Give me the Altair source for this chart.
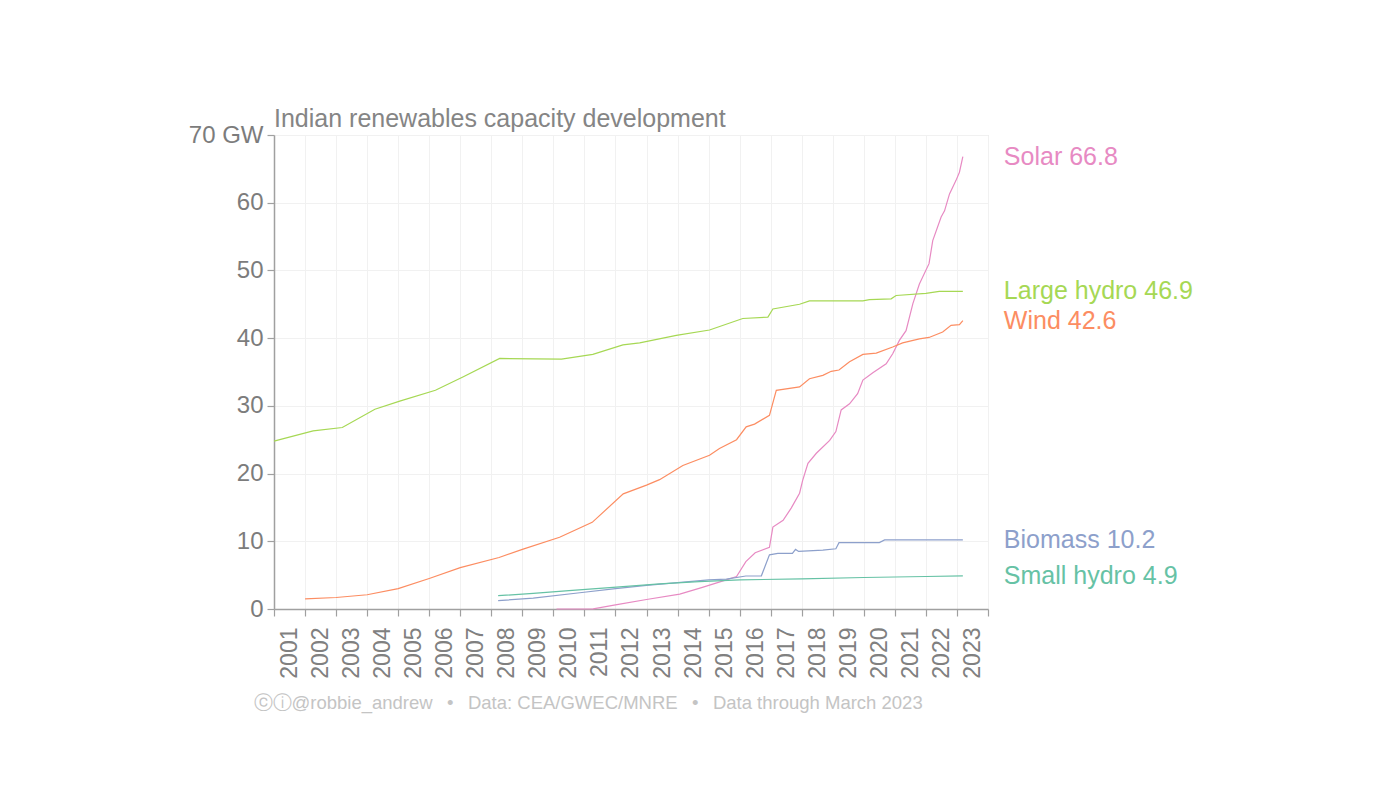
import altair as alt
import pandas as pd

FONT = "Liberation Sans"

# ---- data (decimal years, GW) ----
solar_year = [2010.1, 2011.28, 2012.0, 2013.0, 2014.07, 2014.8, 2015.57, 2015.9, 2016.2, 2016.5,
              2016.96, 2017.07, 2017.4, 2017.66, 2017.93, 2018.03, 2018.2, 2018.47, 2018.9, 2019.1,
              2019.27, 2019.54, 2019.8, 2019.97, 2020.29, 2020.72, 2020.93, 2021.15, 2021.36, 2021.58,
              2021.79, 2022.1, 2022.22, 2022.49, 2022.6, 2022.76, 2022.97, 2023.08, 2023.19]
solar_gw = [0.0, 0.03, 0.6, 1.4, 2.2, 3.2, 4.3, 4.8, 7.0, 8.3,
            9.1, 12.1, 13.1, 14.9, 17.1, 19.0, 21.5, 23.0, 24.9, 26.2,
            29.4, 30.3, 31.8, 33.8, 34.9, 36.2, 37.7, 39.7, 41.1, 45.1,
            48.0, 51.0, 54.4, 57.9, 58.8, 61.3, 63.3, 64.5, 66.8]

hydro_year = [2001.0, 2002.26, 2003.2, 2004.25, 2005.05, 2006.2, 2007.1, 2008.27, 2010.26, 2011.27,
              2012.24, 2012.78, 2013.96, 2015.03, 2016.1, 2016.91, 2017.07, 2017.93, 2018.25, 2019.97,
              2020.18, 2020.88, 2021.04, 2022.0, 2022.43, 2023.19]
hydro_gw = [24.8, 26.3, 26.8, 29.5, 30.7, 32.3, 34.3, 37.0, 36.9, 37.6,
            39.0, 39.3, 40.4, 41.2, 42.9, 43.1, 44.3, 45.0, 45.5, 45.5,
            45.7, 45.8, 46.3, 46.6, 46.9, 46.9]

wind_year = [2002.0, 2003.0, 2004.0, 2005.0, 2006.0, 2007.0, 2008.25, 2009.0, 2010.2, 2011.25,
             2012.25, 2013.0, 2013.42, 2014.17, 2015.03, 2015.35, 2015.9, 2016.21, 2016.48, 2016.96,
             2017.18, 2017.93, 2018.25, 2018.68, 2018.95, 2019.2, 2019.54, 2019.97, 2020.4, 2020.93,
             2021.25, 2021.79, 2022.1, 2022.54, 2022.81, 2023.08, 2023.19]
wind_gw = [1.5, 1.7, 2.1, 3.0, 4.5, 6.1, 7.6, 8.8, 10.6, 12.8,
           17.0, 18.3, 19.1, 21.2, 22.7, 23.7, 25.0, 26.9, 27.3, 28.6,
           32.3, 32.8, 34.0, 34.5, 35.1, 35.3, 36.5, 37.6, 37.8, 38.7,
           39.3, 39.9, 40.1, 40.9, 41.9, 42.0, 42.6]

biomass_year = [2008.22, 2009.35, 2010.85, 2012.0, 2013.0, 2014.0, 2015.0, 2015.57, 2016.2, 2016.7,
                2016.96, 2017.23, 2017.7, 2017.8, 2017.9, 2018.68, 2019.1, 2019.2, 2020.5, 2020.67,
                2023.19]
biomass_gw = [1.23, 1.6, 2.4, 3.0, 3.5, 3.9, 4.3, 4.4, 4.87, 4.9,
              8.0, 8.2, 8.2, 8.8, 8.5, 8.7, 8.9, 9.8, 9.8, 10.2,
              10.2]

small_year = [2008.22, 2009.35, 2010.5, 2011.92, 2013.42, 2014.7, 2016.0, 2018.0, 2020.0, 2022.0, 2023.19]
small_gw = [1.97, 2.3, 2.7, 3.2, 3.7, 4.05, 4.3, 4.45, 4.65, 4.8, 4.9]

series_names = ["Solar", "Large hydro", "Wind", "Biomass", "Small hydro"]
series_colors = ["#e78ac3", "#a6d854", "#fc8d62", "#8da0cb", "#66c2a5"]
series_years = [solar_year, hydro_year, wind_year, biomass_year, small_year]
series_values = [solar_gw, hydro_gw, wind_gw, biomass_gw, small_gw]

year_ticks = list(range(2001, 2025))
gw_ticks = [0, 10, 20, 30, 40, 50, 60, 70]

title_text = "Indian renewables capacity development"
footer_text = "\u24d2\u24d8@robbie_andrew \u2002\u2022\u2002 Data: CEA/GWEC/MNRE \u2002\u2022\u2002 Data through March 2023"

# ---- tables ----
rows = []
for name, yrs, vals in zip(series_names, series_years, series_values):
    for yr, v in zip(yrs, vals):
        rows.append({"series": name, "year": yr, "gw": v})
df = pd.DataFrame(rows)

lab = pd.DataFrame({
    "series": series_names,
    "year": [ys[-1] for ys in series_years],
    "gw": [vs[-1] for vs in series_values],
})
lab["label"] = [f"{n} {v:.1f}" for n, v in zip(lab["series"], lab["gw"])]

color = alt.Color("series:N", scale=alt.Scale(domain=series_names, range=series_colors), legend=None)

x_axis = alt.Axis(
    values=year_ticks,
    format="d",
    labelExpr="datum.value >= 2024 ? '' : datum.label",
    labelAngle=-90,
    labelOffset=15.5,
    labelOverlap=False,
    labelFlush=False,
    labelBound=False,
    labelFontSize=23,
    labelColor="#808080",
    labelFont=FONT,
    labelPadding=11,
    tickSize=7,
    tickColor="#a0a0a0",
    domainColor="#a0a0a0",
    domainWidth=1.5,
    tickWidth=1.2,
    gridColor="#f1f1f1",
    title=footer_text,
    titleFont=FONT,
    titleFontSize=18.5,
    titleFontWeight="normal",
    titleColor="#c4c4c4",
    titleAlign="left",
    titleAnchor="start",
    titleBaseline="middle",
    titleX=-21,
    titleY=93,
)
y_axis = alt.Axis(
    values=gw_ticks,
    labelExpr="datum.value == 70 ? '70 GW' : datum.label",
    labelOverlap=False,
    labelFlush=False,
    labelFontSize=24,
    labelColor="#7c7c7c",
    labelFont=FONT,
    labelPadding=4,
    tickSize=7,
    tickColor="#a0a0a0",
    domainColor="#a0a0a0",
    domainWidth=1.5,
    tickWidth=1.2,
    gridColor="#f1f1f1",
    title=None,
)
x_scale = alt.Scale(domain=[2001, 2024], nice=False, zero=False)
y_scale = alt.Scale(domain=[0, 70], nice=False)

x_enc = alt.X("year:Q", scale=x_scale, axis=x_axis)
y_enc = alt.Y("gw:Q", scale=y_scale, axis=y_axis)

lines = alt.Chart(df).mark_line(strokeWidth=1.2).encode(x=x_enc, y=y_enc, color=color, detail="series:N")

labels = alt.Chart(lab).mark_text(
    align="left", baseline="middle", dx=41, fontSize=25, font=FONT
).encode(x=x_enc, y=y_enc, text="label:N", color=color)

chart = alt.layer(lines, labels).properties(
    width=714,
    height=474,
    autosize="none",
    padding={"left": 274, "top": 135, "right": 412, "bottom": 191},
    title=alt.TitleParams(
        text=title_text,
        anchor="start",
        frame="group",
        font=FONT,
        fontSize=25,
        fontWeight="normal",
        color="#858585",
        offset=4,
        dy=13,
    ),
).configure_view(stroke=None).configure(background="white")

chart.save("out.html", embed_options={"renderer": "svg", "actions": False})
